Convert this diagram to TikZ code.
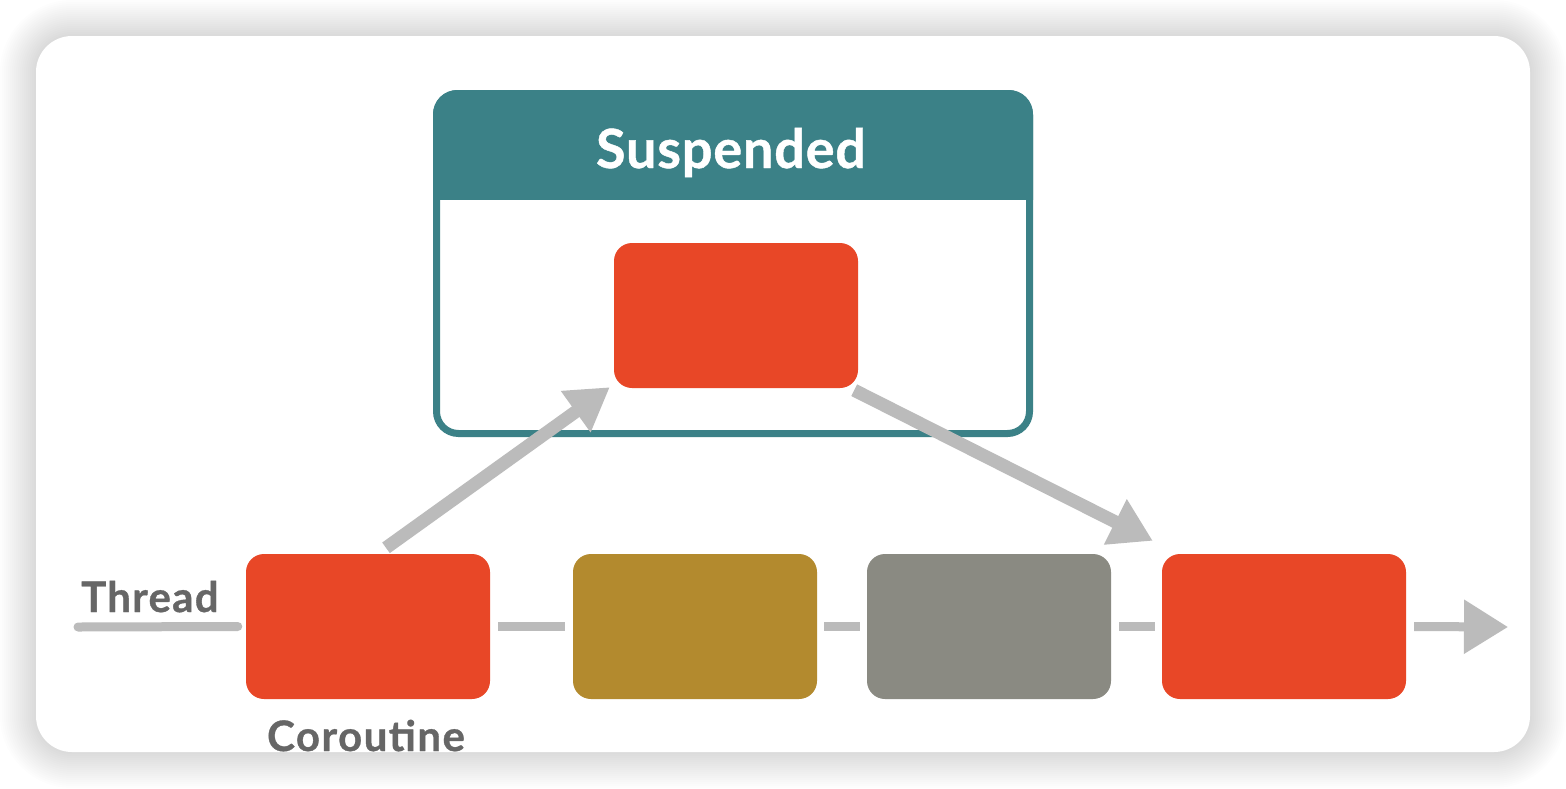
\documentclass[tikz,border=0pt]{standalone}
\usepackage{fontspec}
\setmainfont{Lato}[BoldFeatures={FakeBold=0.8}]
\usetikzlibrary{arrows.meta}
\definecolor{teal1}{HTML}{3B8187}
\definecolor{red1}{HTML}{E84727}
\definecolor{olive1}{HTML}{B38A2E}
\definecolor{gray1}{HTML}{8A8A82}
\definecolor{arrowgray}{HTML}{BBBBBB}
\definecolor{txtgray}{HTML}{666666}
\begin{document}
\begin{tikzpicture}[x=1pt,y=-1pt,
  box/.style={rounded corners=18pt, minimum width=244pt, minimum height=145pt, inner sep=0pt},
  thread/.style={draw=arrowgray, line width=9pt},
  diag/.style={draw=arrowgray, line width=13pt, -{Triangle[length=42pt,width=48pt]}},
  lab/.style={text=txtgray, inner sep=0pt}
]
\fill[white] (0,0) rectangle (1566,788);
\useasboundingbox (0,0) rectangle (1566,788);
% shadow
\foreach \i [evaluate=\i as \r using 36+2*\i] in {1,...,18}
  \fill[black, opacity=0.009, rounded corners=\r pt] (36-2*\i,36-2*\i) rectangle (1530+2*\i,752+2*\i);
% card
\fill[white, rounded corners=36pt] (36,36) rectangle (1530,752);
\begin{scope}
\clip[rounded corners=36pt] (36,36) rectangle (1530,752);
% suspended frame header
\begin{scope}
\clip[rounded corners=24pt] (433,90) rectangle (1033,437);
\fill[teal1] (430,86) rectangle (1036,200);
\end{scope}
\node[draw=teal1, line width=7pt, rounded corners=22pt, minimum width=593pt, minimum height=340pt, inner sep=0pt] (frame) at (733,263.5) {};
\node[text=white, font=\bfseries\fontsize{54}{60}\selectfont\addfontfeatures{LetterSpace=1.5}, anchor=base, inner sep=0pt] (title) at (731,168) {Suspended};
\node[box, fill=red1] (s) at (736,315.5) {};
% thread boxes
\node[box, fill=red1] (c1) at (368,626.5) {};
\node[box, fill=olive1] (c2) at (695,626.5) {};
\node[box, fill=gray1] (c3) at (989,626.5) {};
\node[box, fill=red1] (c4) at (1284,626.5) {};
% thread line
\coordinate (tstart) at (78,627);
\coordinate (tend) at (1508,627);
\draw[thread, line cap=round] (tstart) -- ([xshift=-8pt]c1.west);
\draw[thread] ([xshift=8pt]c1.east) -- ([xshift=-8pt]c2.west);
\draw[thread] ([xshift=7pt]c2.east) -- ([xshift=-7pt]c3.west);
\draw[thread] ([xshift=8pt]c3.east) -- ([xshift=-7pt]c4.west);
\draw[thread, -{Triangle[length=44pt,width=52pt]}] ([xshift=8pt]c4.east) -- (tend);
% diagonal arrows
\draw[diag] ([xshift=18pt,yshift=6pt]c1.north) -- ([xshift=-4pt,yshift=1pt]s.south west);
\draw[diag] ([xshift=-4pt,yshift=-2pt]s.south east) -- ([xshift=-9pt,yshift=13pt]c4.north west);
% labels
\node[lab, font=\bfseries\fontsize{42}{46}\selectfont\addfontfeatures{LetterSpace=3}, anchor=base west] (thr) at (81,612) {Thread};
\node[lab, font=\bfseries\fontsize{42}{46}\selectfont\addfontfeatures{LetterSpace=3.5}, anchor=base] (cor) at (366,751) {Coroutine};
\end{scope}
\end{tikzpicture}
\end{document}
